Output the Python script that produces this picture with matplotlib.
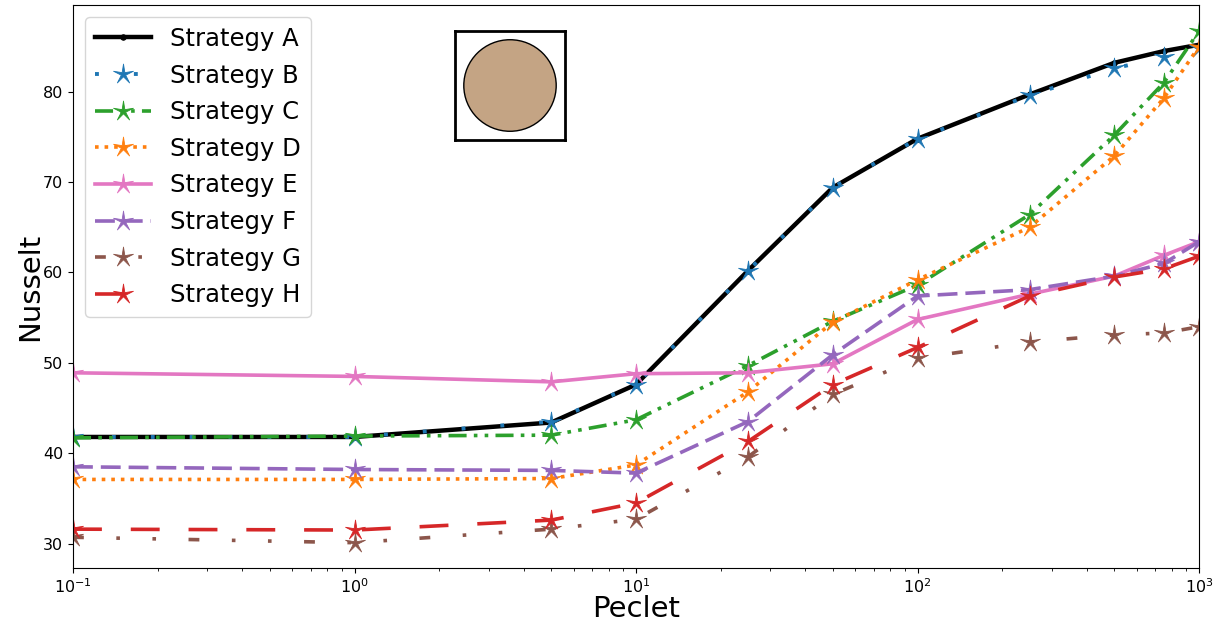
import matplotlib
matplotlib.use("Agg")
import matplotlib.pyplot as plt
from matplotlib.patches import Circle
from matplotlib.path import Path

# -----------------------------------------------------------------------------
# Data
# -----------------------------------------------------------------------------
peclet = [0.1, 1, 5, 10, 25, 50, 100, 250, 500, 750, 1000]

strategy_a = [41.8, 41.8, 43.4, 47.6, 60.2, 69.4, 74.8, 79.7, 83.2, 84.5, 85.2]
strategy_b = [41.8, 41.8, 43.5, 47.6, 60.2, 69.4, 74.8, 79.6, 82.6, 83.8, 84.8]
strategy_c = [41.7, 41.9, 42.0, 43.7, 49.7, 54.6, 58.6, 66.4, 75.2, 81.0, 86.7]
strategy_d = [37.1, 37.1, 37.2, 38.7, 46.8, 54.5, 59.2, 65.0, 72.9, 79.3, 85.0]
strategy_e = [48.9, 48.5, 47.9, 48.8, 48.9, 49.9, 54.8, 57.6, 59.6, 61.9, 63.4]
strategy_f = [38.5, 38.2, 38.1, 37.8, 43.5, 50.9, 57.4, 58.1, 59.6, 61.0, 63.4]
strategy_g = [30.7, 30.1, 31.6, 32.7, 39.6, 46.5, 50.5, 52.3, 53.1, 53.3, 54.0]
strategy_h = [31.6, 31.5, 32.6, 34.5, 41.3, 47.6, 51.7, 57.4, 59.5, 60.4, 61.8]

labels = ["Strategy A", "Strategy B", "Strategy C", "Strategy D",
          "Strategy E", "Strategy F", "Strategy G", "Strategy H"]

# Thin-armed five-point star (asterisk-like look of the reference markers)
STAR = Path.unit_regular_star(5, innerCircle=0.22)

STYLES = [
    dict(color="black", lw=3.2, marker=".", ms=8, ls="-"),
    dict(color="tab:blue", lw=2.8, marker=STAR, ms=15, ls=(0, (1, 9))),
    dict(color="tab:green", lw=2.6, marker=STAR, ms=15, ls=(0, (5, 2, 1, 2, 1, 2))),
    dict(color="tab:orange", lw=2.6, marker=STAR, ms=15, ls=":"),
    dict(color="tab:pink", lw=2.6, marker=STAR, ms=15, ls="-"),
    dict(color="tab:purple", lw=2.6, marker=STAR, ms=15, ls=(0, (5.5, 2.2))),
    dict(color="tab:brown", lw=2.6, marker=STAR, ms=15, ls=(0, (3, 9, 1, 9, 1, 9))),
    dict(color="tab:red", lw=2.6, marker=STAR, ms=15, ls=(0, (8, 8))),
]

fig = plt.figure(figsize=(12.22, 6.23), dpi=100)
ax = fig.add_axes([73 / 1222, 55 / 623, 1126 / 1222, 563 / 623])

series = [strategy_a, strategy_b, strategy_c, strategy_d,
          strategy_e, strategy_f, strategy_g, strategy_h]
for values, label, st in zip(series, labels, STYLES):
    ax.plot(peclet, values, label=label, color=st["color"], linewidth=st["lw"],
            linestyle=st["ls"], marker=st["marker"], markersize=st["ms"],
            markeredgewidth=0.6)

ax.set_xscale("log")
ax.set_xlim(0.1, 1000)
ax.set_ylim(27.3, 89.6)
ax.tick_params(axis="both", which="major", labelsize=11.5)
ax.set_xlabel("Peclet", fontsize=21, labelpad=-1)
ax.set_ylabel("Nusselt", fontsize=21, labelpad=-1)

ax.legend(loc="upper left", fontsize=17.5, labelspacing=0.52, handlelength=2.3,
          borderaxespad=0.5)

# Inset: circular cross-section in a square frame
inset = fig.add_axes([455 / 1222, (623 - 140) / 623, 110 / 1222, 109 / 623])
inset.set_xlim(0, 1)
inset.set_ylim(0, 1)
inset.set_xticks([])
inset.set_yticks([])
for spine in inset.spines.values():
    spine.set_linewidth(2.0)
inset.add_patch(Circle((0.5, 0.5), 0.42, facecolor="#c4a484", edgecolor="black",
                       linewidth=1.0))

fig.savefig("out.png", dpi=100)
